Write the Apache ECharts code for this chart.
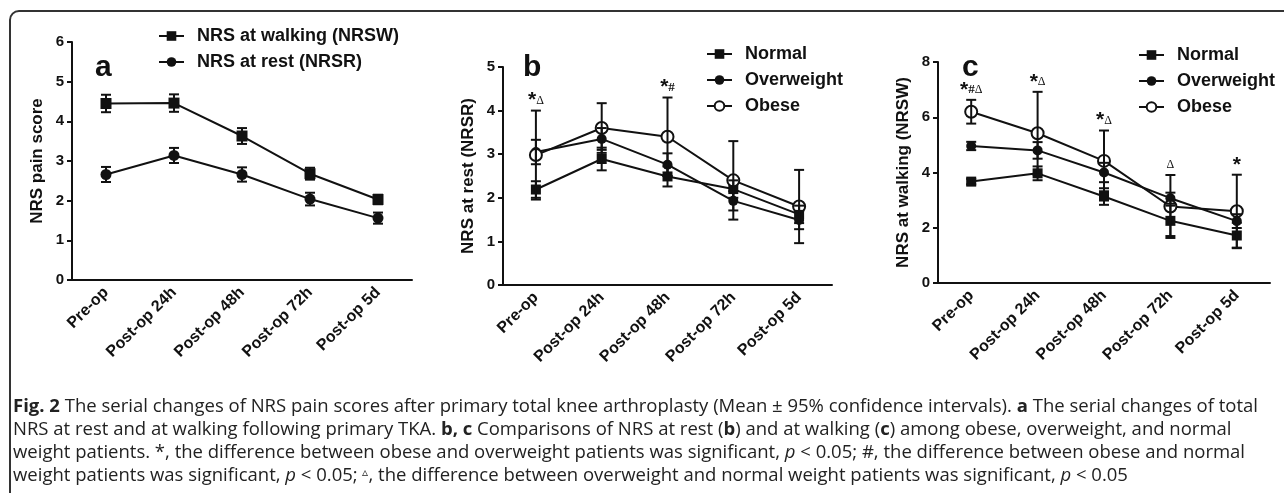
<!DOCTYPE html>
<html><head><meta charset="utf-8">
<script src="https://cdn.jsdelivr.net/npm/echarts@6/dist/echarts.min.js"></script>
<style>html,body{margin:0;padding:0;background:#fff}#c{width:1284px;height:493px}</style>
</head><body><div id="c"></div>
<script>
const categories = ['Pre-op','Post-op 24h','Post-op 48h','Post-op 72h','Post-op 5d'];
// Panel a
const aWalkMean = [4.45, 4.46, 3.63, 2.68, 2.03];
const aWalkCI   = [0.22, 0.22, 0.20, 0.15, 0.12];
const aRestMean = [2.66, 3.14, 2.66, 2.04, 1.56];
const aRestCI   = [0.19, 0.19, 0.18, 0.16, 0.14];
// Panel b (NRS at rest)
const bNormMean  = [2.19, 2.89, 2.49, 2.20, 1.62];
const bNormCI    = [0.19, 0.26, 0.23, 0.20, 0.20];
const bOverMean  = [3.05, 3.35, 2.76, 1.93, 1.49];
const bOverCI    = [0.28, 0.25, 0.26, 0.22, 0.21];
const bObeseMean = [2.98, 3.60, 3.40, 2.40, 1.80];
const bObeseCI   = [1.02, 0.57, 0.90, 0.90, 0.84];
const bAnnot = ['*Δ', '', '*#', '', ''];
// Panel c (NRS at walking)
const cNormMean  = [3.67, 3.97, 3.13, 2.25, 1.72];
const cNormCI    = [0.10, 0.25, 0.30, 0.55, 0.46];
const cOverMean  = [4.96, 4.80, 4.00, 3.07, 2.24];
const cOverCI    = [0.15, 0.30, 0.35, 0.20, 0.25];
const cObeseMean = [6.20, 5.42, 4.42, 2.77, 2.60];
const cObeseCI   = [0.43, 1.50, 1.10, 1.14, 1.32];
const cAnnot = ['*#Δ', '*Δ', '*Δ', 'Δ', '*'];
// axis ticks
const aTicks = {min: 0, max: 6, interval: 1};
const bTicks = {min: 0, max: 5, interval: 1};
const cTicks = {min: 0, max: 8, interval: 2};

const FONT = 'Liberation Sans';
const BLACK = '#111';

function errData(mean, ci){ return mean.map((m,i)=>[i, m, ci[i]]); }
function errRender(params, api){
  const x = api.value(0), m = api.value(1), ci = api.value(2);
  const t = api.coord([x, m+ci]), b = api.coord([x, m-ci]);
  const hw = 5, st = {stroke: BLACK, lineWidth: 2};
  return {type:'group', children:[
    {type:'line', shape:{x1:t[0], y1:t[1], x2:b[0], y2:b[1]}, style:st},
    {type:'line', shape:{x1:t[0]-hw, y1:t[1], x2:t[0]+hw, y2:t[1]}, style:st},
    {type:'line', shape:{x1:b[0]-hw, y1:b[1], x2:b[0]+hw, y2:b[1]}, style:st}
  ]};
}
function annotMaker(labels){
  return function(params, api){
    const txt = labels[params.dataIndex];
    if(!txt) return null;
    const p = api.coord([api.value(0), api.value(1)]);
    let rich = '';
    for(const ch of txt){
      if(ch==='*') rich += '{s|*}';
      else if(ch==='#') rich += '{h|#}';
      else rich += '{d|'+ch+'}';
    }
    return {type:'text', x:p[0], y:p[1]-1, style:{
      text: rich, align:'center', verticalAlign:'bottom',
      rich:{
        s:{fontFamily:FONT, fontWeight:'bold', fontSize:21, fill:BLACK, verticalAlign:'middle', lineHeight:18},
        h:{fontFamily:'Liberation Serif', fontWeight:'bold', fontSize:13, fill:BLACK, verticalAlign:'middle', lineHeight:18},
        d:{fontFamily:'Liberation Serif', fontSize:12, fill:BLACK, verticalAlign:'middle', lineHeight:18}
      }}};
  };
}
function annotData(labels, means, cis){
  return labels.map((l,i)=>{
    let top = -Infinity;
    means.forEach((m,k)=>{ top = Math.max(top, m[i]+cis[k][i]); });
    return [i, top];
  });
}

const grids = [
  {left:72, top:42, width:340, height:238},
  {left:503, top:67, width:329, height:218},
  {left:938, top:62, width:332, height:221}
];
function xAx(gi){
  return {type:'category', gridIndex:gi, data:categories, boundaryGap:true,
    axisLine:{lineStyle:{color:BLACK, width:2}},
    axisTick:{alignWithLabel:true, length:7, lineStyle:{color:BLACK, width:2}},
    axisLabel:{rotate:45, margin:10, color:BLACK, fontFamily:FONT, fontWeight:'bold', fontSize:16, interval:0},
    splitLine:{show:false}};
}
function yAx(gi, t, name){
  return {type:'value', gridIndex:gi, min:t.min, max:t.max, interval:t.interval,
    name:name, nameLocation:'middle', nameGap:26, nameRotate:90,
    nameTextStyle:{color:BLACK, fontFamily:FONT, fontWeight:'bold', fontSize:17},
    axisLine:{show:true, lineStyle:{color:BLACK, width:2}},
    axisTick:{show:true, length:5, lineStyle:{color:BLACK, width:2}},
    axisLabel:{margin:8, color:BLACK, fontFamily:FONT, fontWeight:'bold', fontSize:15},
    splitLine:{show:false}};
}
function lineS(name, gi, data, kind, size){
  const s = {type:'line', name:name, xAxisIndex:gi, yAxisIndex:gi, data:data,
    symbol: kind==='sq' ? 'rect' : 'circle', symbolSize:size, z:3,
    lineStyle:{color:BLACK, width:2}, animation:false,
    itemStyle: kind==='open' ? {color:'#fff', borderColor:BLACK, borderWidth:2} : {color:BLACK}};
  return s;
}
function errS(gi, mean, ci){
  return {type:'custom', xAxisIndex:gi, yAxisIndex:gi, data:errData(mean, ci), renderItem:errRender, z:4, animation:false, silent:true};
}
function legendCfg(data, left, top){
  return {data:data, orient:'vertical', left:left, top:top, itemWidth:25, itemHeight:12, itemGap:8, padding:0,
    textStyle:{color:BLACK, fontFamily:FONT, fontWeight:'bold', fontSize:18, padding:[0,0,0,8]}};
}

const caption = [
  '{b|Fig. 2} The serial changes of NRS pain scores after primary total knee arthroplasty (Mean ± 95% confidence intervals). {b|a} The serial changes of total',
  'NRS at rest and at walking following primary TKA. {b|b, c} Comparisons of NRS at rest ({b|b}) and at walking ({b|c}) among obese, overweight, and normal',
  'weight patients. *, the difference between obese and overweight patients was significant, {i|p} < 0.05; #, the difference between obese and normal',
  'weight patients was significant, {i|p} < 0.05; {t|▵}, the difference between overweight and normal weight patients was significant, {i|p} < 0.05'
];
const capFont = 'Open Sans';
const capSize = 18.5;
const capRich = {
  b:{fontFamily:capFont, fontWeight:'bold', fontSize:capSize, fill:'#222'},
  i:{fontFamily:capFont, fontStyle:'italic', fontSize:capSize, fill:'#222'},
  t:{fontFamily:capFont, fontSize:12, fill:'#222', verticalAlign:'top'}
};
const graphics = [
  {type:'rect', shape:{x:10, y:11, width:1300, height:520, r:9}, style:{fill:'none', stroke:'#333', lineWidth:2}, silent:true},
  {type:'text', x:95, y:53, style:{text:'a', fontFamily:FONT, fontWeight:'bold', fontSize:30, fill:BLACK, verticalAlign:'alphabetic'}},
  {type:'text', x:523, y:53, style:{text:'b', fontFamily:FONT, fontWeight:'bold', fontSize:30, fill:BLACK, verticalAlign:'alphabetic'}},
  {type:'text', x:962, y:53, style:{text:'c', fontFamily:FONT, fontWeight:'bold', fontSize:30, fill:BLACK, verticalAlign:'alphabetic'}}
];
caption.forEach((line, k)=>{
  graphics.push({type:'text', x:13, y:407 + k*23, style:{text:line, rich:capRich, fontFamily:capFont, fontSize:capSize, fill:'#222', verticalAlign:'middle'}});
});

const chart = echarts.init(document.getElementById('c'), null, {renderer:'canvas'});
chart.setOption({
  backgroundColor:'#fff',
  animation:false,
  grid: grids,
  xAxis:[xAx(0), xAx(1), xAx(2)],
  yAxis:[yAx(0, aTicks, 'NRS pain score'), yAx(1, bTicks, 'NRS at rest (NRSR)'), yAx(2, cTicks, 'NRS at walking (NRSW)')],
  legend:[
    legendCfg(['NRS at walking (NRSW)','NRS at rest (NRSR)'], 158, 27),
    legendCfg(['Normal','Overweight','Obese'], 706, 45),
    legendCfg(['Normal','Overweight','Obese'], 1138, 46)
  ],
  graphic: graphics,
  series:[
    lineS('NRS at walking (NRSW)', 0, aWalkMean, 'sq', 11),
    lineS('NRS at rest (NRSR)', 0, aRestMean, 'dot', 11),
    errS(0, aWalkMean, aWalkCI), errS(0, aRestMean, aRestCI),

    lineS('Normal', 1, bNormMean, 'sq', 10),
    lineS('Overweight', 1, bOverMean, 'dot', 10),
    lineS('Obese', 1, bObeseMean, 'open', 12),
    errS(1, bNormMean, bNormCI), errS(1, bOverMean, bOverCI), errS(1, bObeseMean, bObeseCI),
    {type:'custom', xAxisIndex:1, yAxisIndex:1, data:annotData(bAnnot, [bNormMean,bOverMean,bObeseMean],[bNormCI,bOverCI,bObeseCI]), renderItem:annotMaker(bAnnot), z:5, silent:true},

    lineS('Normal', 2, cNormMean, 'sq', 10),
    lineS('Overweight', 2, cOverMean, 'dot', 10),
    lineS('Obese', 2, cObeseMean, 'open', 12),
    errS(2, cNormMean, cNormCI), errS(2, cOverMean, cOverCI), errS(2, cObeseMean, cObeseCI),
    {type:'custom', xAxisIndex:2, yAxisIndex:2, data:annotData(cAnnot, [cNormMean,cOverMean,cObeseMean],[cNormCI,cOverCI,cObeseCI]), renderItem:annotMaker(cAnnot), z:5, silent:true}
  ]
});
</script></body></html>
